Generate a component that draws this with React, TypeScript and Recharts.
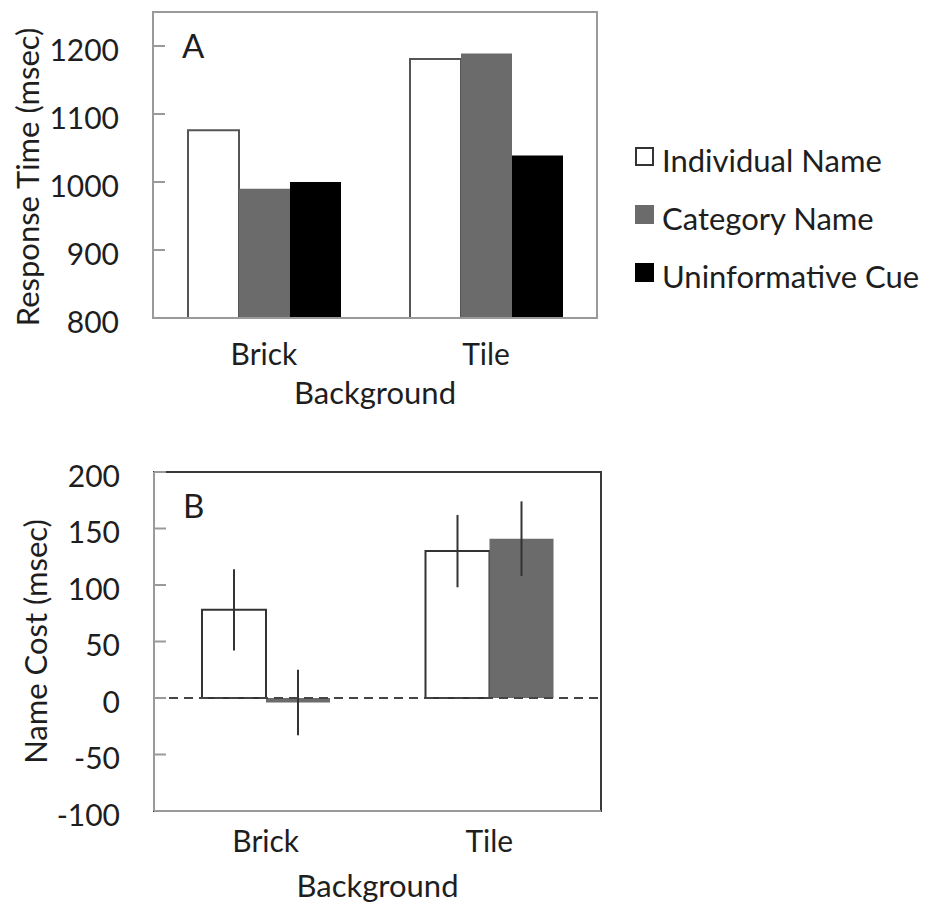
import React from 'react';
import {
  BarChart,
  Bar,
  XAxis,
  YAxis,
  ReferenceArea,
  ReferenceLine,
  ErrorBar,
} from 'recharts';

// categories and series
const backgrounds = ['Brick', 'Tile'];
const seriesNames = ['Individual Name', 'Category Name', 'Uninformative Cue'];

// panel A: response time (msec)
const individualRT = [1076, 1181];
const categoryRT = [990, 1189];
const uninformativeRT = [1000, 1039];
const rtTicks = [800, 900, 1000, 1100, 1200];

// panel B: name cost (msec) with error bars
const individualCost = [78, 130];
const categoryCost = [-4, 141];
const individualCostErr = [36, 32];
const categoryCostErr = [29, 33];
const costTicks = [-100, -50, 0, 50, 100, 150, 200];

const FONT = 'Lato, "Open Sans", sans-serif';
const INK = '#1e1e1e';
const GREY_BAR = '#6b6b6b';
const FRAME = '#9a9a9a';
const TICK_FS = 30;
const LABEL_FS = 31;

const rtData = backgrounds.map((name, i) => ({
  name,
  individual: individualRT[i],
  category: categoryRT[i],
  uninformative: uninformativeRT[i],
}));

const costData = backgrounds.map((name, i) => ({
  name,
  individual: individualCost[i],
  category: categoryCost[i],
  individualErr: individualCostErr[i],
  categoryErr: categoryCostErr[i],
}));

const TICK_MARGIN = 34;

// y tick with the little tick mark drawn inside the plot, Excel style
const YTick = (props: any) => {
  const { x, y, payload } = props;
  const axisX = x + TICK_MARGIN;
  return (
    <g>
      <line x1={axisX} x2={axisX + 12} y1={y} y2={y} stroke={FRAME} strokeWidth={2} />
      <text x={x} y={y + 4} dy="0.36em" textAnchor="end" fill={INK} fontSize={TICK_FS} fontFamily={FONT}>
        {payload.value}
      </text>
    </g>
  );
};

const VLabel = (props: any) => {
  const { viewBox, text, cx } = props;
  const cy = viewBox.y + viewBox.height / 2 + (props.shift || 0);
  return (
    <text
      x={cx}
      y={cy}
      transform={`rotate(-90, ${cx}, ${cy})`}
      textAnchor="middle"
      dominantBaseline="central"
      fill={INK}
      fontSize={LABEL_FS}
      fontFamily={FONT}
    >
      {text}
    </text>
  );
};

const PanelLetter = (props: any) => {
  const { viewBox, letter } = props;
  return (
    <text x={viewBox.x + 29} y={viewBox.y + 46} fill={INK} fontSize={33} fontFamily={FONT}>
      {letter}
    </text>
  );
};

const legendSwatches = [
  { fill: '#fff', stroke: '#333' },
  { fill: GREY_BAR, stroke: GREY_BAR },
  { fill: '#000', stroke: '#000' },
];

export default function App() {
  return (
    <div style={{ position: 'absolute', left: 0, top: 0, width: 932, height: 905, background: '#fff', fontFamily: FONT }}>
      <div style={{ position: 'absolute', left: 0, top: 0 }}>
        <BarChart
          width={932}
          height={420}
          data={rtData}
          margin={{ top: 12, right: 335, bottom: 0, left: 0 }}
          barCategoryGap={35}
          barGap={0}
          style={{ fontFamily: FONT }}
        >
          <ReferenceArea
            y1={800}
            y2={1250}
            fill="none"
            fillOpacity={0}
            stroke={FRAME}
            strokeWidth={2}
            label={<PanelLetter letter="A" />}
          />
          <XAxis
            dataKey="name"
            height={102}
            axisLine={{ stroke: FRAME, strokeWidth: 2 }}
            tickLine={false}
            tickSize={0}
            tickMargin={26}
            tick={{ fontSize: TICK_FS, fill: INK }}
            label={{ value: 'Background', position: 'insideBottom', offset: 16, fontSize: LABEL_FS, fill: INK }}
          />
          <YAxis
            width={153}
            domain={[800, 1250]}
            ticks={rtTicks}
            axisLine={{ stroke: FRAME, strokeWidth: 2 }}
            tickLine={false}
            tickSize={0}
            tickMargin={TICK_MARGIN}
            tick={<YTick />}
            label={<VLabel text="Response Time (msec)" cx={27} shift={12} />}
          />
          <Bar dataKey="individual" name={seriesNames[0]} fill="#fff" stroke="#555" strokeWidth={2} isAnimationActive={false} />
          <Bar dataKey="category" name={seriesNames[1]} fill={GREY_BAR} isAnimationActive={false} />
          <Bar dataKey="uninformative" name={seriesNames[2]} fill="#000" isAnimationActive={false} />
        </BarChart>
      </div>

      {/* legend */}
      <div style={{ position: 'absolute', left: 635, top: 131, fontSize: LABEL_FS, color: INK }}>
        {seriesNames.map((s, i) => (
          <div key={s} style={{ display: 'flex', alignItems: 'center', height: 58, whiteSpace: 'nowrap' }}>
            <span
              style={{
                display: 'inline-block',
                width: 15,
                height: 15,
                background: legendSwatches[i].fill,
                border: `2px solid ${legendSwatches[i].stroke}`,
                marginRight: 8,
                marginTop: -8,
              }}
            />
            <span>{s}</span>
          </div>
        ))}
      </div>

      <div style={{ position: 'absolute', left: 0, top: 420 }}>
        <BarChart
          width={932}
          height={485}
          data={costData}
          margin={{ top: 52, right: 331, bottom: 0, left: 0 }}
          barCategoryGap={48}
          barGap={0}
          style={{ fontFamily: FONT }}
        >
          <ReferenceArea
            y1={-100}
            y2={200}
            fill="none"
            fillOpacity={0}
            stroke="#3a3a3a"
            strokeWidth={2}
            label={<PanelLetter letter="B" />}
          />
          <XAxis
            dataKey="name"
            height={94}
            axisLine={{ stroke: FRAME, strokeWidth: 2 }}
            tickLine={false}
            tickSize={0}
            tickMargin={20}
            tick={{ fontSize: TICK_FS, fill: INK }}
            label={{ value: 'Background', position: 'insideBottom', offset: 8, fontSize: LABEL_FS, fill: INK }}
          />
          <YAxis
            width={154}
            domain={[-100, 200]}
            ticks={costTicks}
            axisLine={{ stroke: FRAME, strokeWidth: 2 }}
            tickLine={false}
            tickSize={0}
            tickMargin={TICK_MARGIN}
            tick={<YTick />}
            label={<VLabel text="Name Cost (msec)" cx={35} shift={0} />}
          />
          <Bar dataKey="individual" name={seriesNames[0]} fill="#fff" stroke="#333" strokeWidth={2} isAnimationActive={false}>
            <ErrorBar dataKey="individualErr" width={0} stroke="#333" strokeWidth={2} direction="y" />
          </Bar>
          <Bar dataKey="category" name={seriesNames[1]} fill={GREY_BAR} isAnimationActive={false}>
            <ErrorBar dataKey="categoryErr" width={0} stroke="#333" strokeWidth={2} direction="y" />
          </Bar>
          <ReferenceLine y={0} stroke="#444" strokeWidth={2} strokeDasharray="9 6" />
        </BarChart>
      </div>
    </div>
  );
}
